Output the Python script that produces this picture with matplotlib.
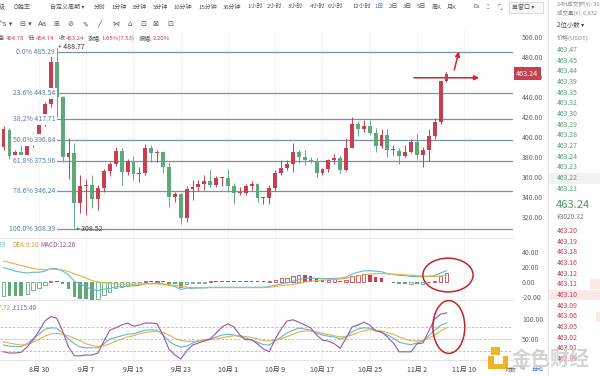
import numpy as np
import matplotlib.pyplot as plt
from matplotlib.patches import Ellipse, Rectangle
from matplotlib import transforms

plt.rcParams['font.family'] = ['Noto Sans CJK SC', 'DejaVu Sans']

W, H = 600, 376
RED = '#c6404f'
GREEN = '#5ea87a'
FIB = '#7692a8'
FIB_TXT = '#5a7fa6'
TEAL = '#63b7c9'
YEL = '#e5b04c'
PURP = '#9a55a6'

# daily candles Aug 24 .. Nov 7, day 0 = Aug 30
day = np.arange(-6, 70)
opens = [390, 407, 381, 385, 382, 392, 400, 413, 433, 475, 440, 380, 384, 334, 351, 352,
         338, 349, 366, 373, 386, 365, 376, 363, 364, 389, 384, 385, 370, 340, 343, 319,
         348, 350, 353, 356, 352, 359, 359, 351, 344, 344, 351, 353, 339, 339, 349, 364,
         369, 373, 385, 380, 377, 376, 364, 368, 377, 379, 367, 389, 413, 408, 411, 404,
         391, 402, 387, 386, 381, 385, 395, 382, 387, 401, 415, 455.7]
highs = [411, 409, 387, 394, 393, 404, 419, 435, 481, 488.77, 441, 399, 394, 362, 358, 362,
         352, 368, 375, 390, 389, 378, 381, 370, 393, 392, 387, 386, 375, 345, 344, 351,
         357, 357, 362, 367, 361, 360, 368, 354, 350, 353, 356, 354, 340, 352, 367, 377,
         377, 394, 387, 387, 380, 379, 369, 378, 383, 381, 399, 420, 416, 417, 417, 409,
         408, 408, 392, 389, 392, 398, 403, 390, 408, 419, 456, 464.78]
lows = [387, 378, 378, 379, 380, 390, 399, 411, 430, 420, 375, 358, 308.52, 324, 322, 329,
        327, 345, 361, 371, 352, 362, 357, 355, 362, 375, 375, 364, 330, 335, 313, 315,
        337, 346, 347, 350, 350, 351, 345, 333, 342, 342, 347, 335, 333, 333, 346, 362,
        367, 365, 374, 372, 374, 360, 362, 365, 373, 364, 366, 389, 401, 405, 402, 385,
        389, 380, 382, 373, 380, 384, 378, 370, 376, 398, 413, 454.74]
closes = [408, 381, 385, 382, 392, 400, 413, 433, 475, 440, 380, 384, 334, 351, 352, 338,
          349, 366, 373, 386, 365, 376, 363, 364, 389, 384, 385, 370, 340, 343, 319, 348,
          350, 353, 356, 352, 359, 359.5, 351, 344, 344.5, 351, 353, 339, 339.5, 349, 364, 369,
          373, 385, 380, 377, 376.5, 364, 368, 377, 379, 367, 389, 413, 408, 411, 404, 391,
          402, 387, 387.5, 381, 385, 395, 382, 387, 401, 415, 455.71, 463.24]

fib_pct = [0.0, 23.6, 38.2, 50.0, 61.8, 78.6, 100.0]
fib_price = [485.29, 443.54, 417.71, 396.84, 375.96, 346.24, 308.39]

macd_dif = [19, 17, 14.5, 13, 12, 13, 13, 14.5, 18, 18, 14.5, 9.5, 1, -3, -6.5, -10,
            -11.5, -9.5, -8.5, -6.5, -6, -5.5, -5, -4.5, -2, -2, -1.5, -2.5, -4.5, -6, -10, -8,
            -8.5, -8, -8, -7, -7, -7, -7, -7, -7, -7, -7, -7, -7, -6, -4.5, -2.5,
            -1, 1, 3.5, 4.5, 5, 5, 4.5, 4.5, 5, 5, 6.5, 10.5, 13, 15, 15, 14.5,
            13.7, 11.2, 10, 9, 8.5, 7.5, 7, 7, 7.8, 8.5, 12, 15.23]
macd_dea = [28, 26, 24, 22, 20, 18, 17, 16.5, 17, 17, 16, 14, 11, 8, 5, 2,
            0, -1, -2, -2.5, -3, -3, -3, -3, -2.5, -2.5, -2.5, -3, -3.5, -4.5, -6, -7,
            -7.5, -7.5, -7.5, -7.5, -7.5, -7.5, -7.5, -7.5, -7.5, -7.5, -7.5, -7.5, -7.5, -7, -6, -5,
            -4, -3, -1.5, 0, 1, 2, 2.5, 3, 3.5, 4, 5, 6.5, 8, 9.5, 10.5, 11,
            11.2, 11, 10.5, 10, 9.5, 9, 8.5, 8, 7.5, 7.5, 8, 9.1]
macd_hist = [-18, -18.5, -19, -19.2, -16, -10, -8, -4, 2, 1.8, -3, -9, -20, -22, -23, -24,
             -23, -17, -13, -8, -6, -5, -4, -3, 1, 0.8, 2, 1, -2, -3, -8, -2,
             -1.8, -1.2, -1, 0.8, 0.7, 0.7, 0.7, 0.7, 0.7, 0.7, 0.7, 0.7, 0.7, 2, 3, 5,
             6, 8, 10, 9, 8, 6, 3, 3.2, 3.4, 2, 3, 8, 10, 11, 9, 7,
             5, 0.5, -1, -2, -2.2, -2, -3, -2, 0.5, 2, 8, 12.26]

kdj_k = [35, 32, 31, 31, 38, 50, 62, 74, 78, 77, 65, 50, 38, 30, 28, 28,
         28, 38, 50, 54, 58, 62, 63, 68, 72, 73, 72, 60, 45, 35, 30, 32,
         40, 45, 48, 50, 55, 60, 62, 60, 56, 52, 48, 42, 36, 35, 45, 55,
         65, 72, 77, 75, 72, 65, 60, 57, 55, 50, 55, 68, 75, 78, 77, 72,
         66, 60, 52, 42, 38, 36, 40, 45, 58, 72, 84, 90.28]
kdj_d = [43, 40, 37, 35, 36, 42, 50, 57, 63, 64, 62, 58, 52, 45, 38, 34,
         31, 33, 38, 45, 50, 55, 58, 63, 66, 68, 70, 66, 60, 52, 47, 44,
         44, 45, 46, 48, 50, 53, 56, 58, 58, 56, 54, 50, 46, 45, 47, 51,
         56, 62, 68, 70, 70, 68, 64, 61, 58, 55, 56, 60, 66, 71, 73, 72,
         70, 66, 62, 55, 50, 46, 45, 46, 52, 60, 70, 77.72]
kdj_j = [18, 15, 15, 17, 30, 48, 70, 95, 106, 102, 70, 30, 8, 8, 10, 10,
         15, 45, 72, 78, 85, 90, 82, 85, 90, 90, 88, 60, 25, 10, 0, 20,
         35, 40, 45, 50, 65, 80, 88, 80, 60, 48, 48, 38, 25, 18, 50, 75,
         95, 98, 92, 85, 78, 60, 47, 45, 38, 27, 52, 80, 85, 92, 85, 70,
         68, 55, 40, 18, 18, 18, 38, 40, 70, 100, 112, 115.4]

date_ticks = [0, 8, 16, 24, 32, 40, 48, 56, 64, 72]
date_labels = ['8月 30', '9月 7', '9月 15', '9月 23', '10月 1', '10月 9',
               '10月 17', '10月 25', '11月 2', '11月 10']

ask_prices = [463.47, 463.45, 463.44, 463.39, 463.35, 463.32, 463.30,
              463.29, 463.28, 463.27, 463.24, 463.23, 463.22, 463.21]
bid_prices = [463.20, 463.19, 463.18, 463.16, 463.12, 463.11, 463.10,
              463.09, 463.06, 463.05, 463.02, 463.01, 462.99]
last_price = 463.24
last_cny = 3020.32

periods = ['分时', '1分钟', '3分钟', '5分钟', '10分钟', '15分钟', '30分钟', '1小时', '2小时',
           '3小时', '4小时', '6小时', '12小时', '1日', '2日', '3日', '5日', '周K', '月K']
period_x = [94, 111, 132, 153, 173, 198, 223, 247, 267, 288, 310, 328, 352, 374, 389, 403, 417, 432, 447]

header = [('高:', '464.78'), ('低:', '454.74'), ('收:', '463.24'),
          ('涨幅:', '1.65%(7.53)'), ('振幅:', '2.20%')]


fig = plt.figure(figsize=(6, 3.76), dpi=100)
rend = fig.canvas.get_renderer()


def box(x0, y0, x1, y1):
    return [x0 / W, 1 - y1 / H, (x1 - x0) / W, (y1 - y0) / H]


def ftext(x, y, s, **kw):
    kw.setdefault('fontsize', 4.3)
    kw.setdefault('color', '#555555')
    kw.setdefault('va', 'center')
    return fig.text(x / W, 1 - y / H, s, **kw)


def frect(x0, y0, x1, y1, **kw):
    fig.add_artist(Rectangle((x0 / W, 1 - y1 / H), (x1 - x0) / W, (y1 - y0) / H,
                             transform=fig.transFigure, **kw))


ax = fig.add_axes(box(0, 30, 513, 237))
ax_m = fig.add_axes(box(0, 238, 513, 300), sharex=ax)
ax_k = fig.add_axes(box(0, 300, 513, 360), sharex=ax)

for a in (ax, ax_m, ax_k):
    for s in a.spines.values():
        s.set_visible(False)
    a.yaxis.tick_right()
    a.tick_params(axis='y', length=0, pad=6.5, labelsize=5, labelcolor='#666666')
    a.tick_params(axis='x', length=0)
    for t in date_ticks:
        a.axvline(t, color='#f1f1f1', lw=0.6, zorder=0)
for a in (ax_m, ax_k):
    a.spines['top'].set_visible(True)
    a.spines['top'].set_color('#e6e6e6')
ax_k.spines['bottom'].set_visible(True)
ax_k.spines['bottom'].set_color('#e6e6e6')

ax.set_xlim(-6.6, 80.26)

# candles
o = np.array(opens)
c = np.array(closes)
col = np.where(c >= o, RED, GREEN)
ax.vlines(day, lows, highs, colors=col, lw=0.7, zorder=3)
ax.bar(day, np.maximum(np.abs(c - o), 0.9), bottom=np.minimum(o, c), width=0.66,
       color=col, lw=0, zorder=4)
ax.set_ylim(300, 507)
ax.set_yticks(range(320, 501, 20))
ax.set_yticklabels([f'{v:.2f}' for v in range(320, 501, 20)])
ax.tick_params(labelbottom=False)

# fibonacci levels, labels sit on a white box over the candles
for pct, lv in zip(fib_pct, fib_price):
    ax.axhline(lv, xmin=57 / 513, color=FIB, lw=0.9, zorder=2)
    ax.text(2.75, lv, f'{pct:.1f}% {lv:.2f}', ha='right', va='center', fontsize=5,
            color=FIB_TXT, zorder=6,
            bbox=dict(boxstyle='square,pad=0.25', fc='white', ec='none'))

hi_i = int(np.argmax(highs))
lo_i = int(np.argmin(lows))
ax.text(day[hi_i] + 0.2, highs[hi_i] + 1.5, '+ ' + f'{highs[hi_i]:.2f}', fontsize=5,
        color='#333333', va='center', ha='left')
ax.text(day[lo_i] + 0.3, lows[lo_i] - 1, '+ ' + f'{lows[lo_i]:.2f}', fontsize=5,
        color='#333333', va='center', ha='left')

# last price tag
blend = transforms.blended_transform_factory(ax.transAxes, ax.transData)
ax.text(1.006, closes[-1], f'{closes[-1]:.2f}', transform=blend, fontsize=5.2,
        color='white', va='center', ha='left',
        bbox=dict(boxstyle='square,pad=0.35', fc=RED, ec='none'))

# hand-drawn arrows
ax.annotate('', xy=(day[-1] + 6, closes[-1] - 4), xytext=(day[-1] - 6, closes[-1] - 4),
            arrowprops=dict(arrowstyle='-|>', color='#d3262c', lw=1.1, mutation_scale=7))
ax.annotate('', xy=(day[-1] + 2.2, closes[-1] + 25), xytext=(day[-1] + 1.2, closes[-1] + 1),
            arrowprops=dict(arrowstyle='-|>', color='#d3262c', lw=1.1, mutation_scale=7))

# MACD
hist = np.array(macd_hist)
prev = np.concatenate([[hist[0] - 1], hist[:-1]])
hollow = hist > prev
hc = np.where(hist >= 0, RED, GREEN)
ax_m.bar(day[~hollow], hist[~hollow], width=0.62, color=hc[~hollow], lw=0, zorder=3)
ax_m.bar(day[hollow], hist[hollow], width=0.55, facecolor='white',
         edgecolor=hc[hollow], lw=0.6, zorder=3)
ax_m.plot(day, macd_dif, color=TEAL, lw=0.8, zorder=4)
ax_m.plot(day, macd_dea, color=YEL, lw=0.8, zorder=4)
ax_m.set_ylim(-24, 58.7)
ax_m.set_yticks([-20, 0, 20, 40])
ax_m.set_yticklabels(['-20.00', '0.00', '20.00', '40.00'])
ax_m.tick_params(labelbottom=False)
ax_m.add_patch(Ellipse((69.25, 9.3), 8.5, 45, fill=False, ec='#c5232b', lw=1.1,
                       clip_on=False, zorder=6))

# KDJ
for lv in (20, 50, 80):
    ax_k.axhline(lv, color='#bdbdbd', lw=0.6, dashes=(3, 2), zorder=1)
ax_k.plot(day, kdj_k, color=TEAL, lw=0.8, zorder=3)
ax_k.plot(day, kdj_d, color=YEL, lw=0.8, zorder=3)
ax_k.plot(day, kdj_j, color=PURP, lw=0.8, zorder=3)
ax_k.set_ylim(-2.5, 147.5)
ax_k.set_yticks([50, 100])
ax_k.set_yticklabels(['50.00', '100.00'])
ax_k.add_patch(Ellipse((69.4, 80), 5.4, 132, fill=False, ec='#c5232b', lw=1.1,
                       clip_on=False, zorder=6))
ax_k.set_xticks(date_ticks)
ax_k.set_xticklabels(date_labels)
ax_k.tick_params(axis='x', labelsize=5, labelcolor='#444444', pad=4)

# indicator headers (left part runs off the edge as in the screenshot)
ftext(6, 245, f'DIF:{macd_dif[-1]:.2f}', ha='right', color=TEAL, fontsize=4.6)
ftext(12, 245, f'DEA:{macd_dea[-1]:.2f}', color='#dd9d2f', fontsize=4.6)
ftext(40, 245, f'MACD:{macd_hist[-1]:.2f}', color='#9a4f8c', fontsize=4.6)
ftext(10, 308, f'K:{kdj_k[-1]:.2f} D:{kdj_d[-1]:.2f}', ha='right', color='#dd9d2f',
      fontsize=4.6)
ftext(12, 308, f'J:{kdj_j[-1]:.2f}', color=PURP, fontsize=4.6)

# toolbar
ftext(-1, 7, '级')
ftext(12, 7, '⊙胜率')
ftext(50, 7, '自定义周期 ▾')
for lab, xp in zip(periods, period_x):
    ftext(xp, 7, lab, color='#3a78d4' if lab == '1日' else '#555555')
ftext(473, 7, 'Ds', fontsize=4)
ftext(485, 7, '⁚⁚', fontsize=5)
ftext(497, 7, '⌜⌟', fontsize=4.5)
frect(509, 2, 543, 13, fc='#f7f7f7', ec='#cfcfcf', lw=0.5)
ftext(512, 7.5, '单窗口 ▾')

icons = ['ʰs ▾', '⊟ ▾', 'Aa', '⊞', '⊘', '✎', '╱', '⋈', '⌂', '⊡', '⊠', '⊡']
icon_x = [0, 20, 38, 53, 67, 82, 97, 112, 127, 140, 152, 167]
for ic, xp in zip(icons, icon_x):
    ftext(xp, 24, ic, fontsize=5, color='#555555', family=['DejaVu Sans'])

# OHLC header line, laid out from the measured text widths
xc = -2
for lab, val in header:
    t1 = ftext(xc, 38, lab, color='#555555')
    xc += t1.get_window_extent(rend).width
    t2 = ftext(xc, 38, val, color=RED)
    xc += t2.get_window_extent(rend).width + 4

# order book panel
fig.add_artist(plt.Line2D([548 / W, 548 / W], [0, 1], transform=fig.transFigure,
                          color='#e3e3e3', lw=0.8))
ftext(557, 4, '24H成交额(¥): 31', fontsize=4, color='#888888')
ftext(557, 13, '成交量(¥): 6,832', fontsize=4, color='#888888')
ftext(557, 25, '2位小数 ▾', fontsize=4.6, color='#444444')
ftext(557, 38, '价格(USDT)', fontsize=4.3, color='#888888')
frect(549, 173, 600, 184, fc='#f2f2f2', ec='none')
frect(549, 290, 600, 300, fc='#fbe8e9', ec='none')
frect(590, 279, 600, 289, fc='#fbe8e9', ec='none')
frect(596, 312, 600, 322, fc='#fbe8e9', ec='none')
for k, p in enumerate(ask_prices):
    ftext(557, 50 + 10.67 * k, f'{p:.2f}', fontsize=5, color='#5a9e70')
ftext(556, 205, f'{last_price:.2f}', fontsize=8, color='#4f9a68')
ftext(557, 217, f'¥{last_cny:.2f}', fontsize=4.8, color='#777777')
for k, p in enumerate(bid_prices):
    ftext(557, 231 + 10.67 * k, f'{p:.2f}', fontsize=5, color=RED)

# bottom right controls and watermark
ftext(505, 369, '对数', fontsize=4.2, color='#666666')
ftext(520, 369, '%', fontsize=4.2, color='#666666')
ftext(531, 369, '自动', fontsize=4.2, color='#3a78d4')
frect(491, 347, 500, 355, fc='#f0b323', ec='none')
frect(488, 356, 508, 369, fc='#f0b323', ec='none')
frect(494, 356, 503, 364, fc='white', ec='none')
ftext(512, 359, '金色财经', fontsize=14, color='#cccccc', alpha=0.85, fontweight='bold')

fig.savefig('out.png', dpi=100)
